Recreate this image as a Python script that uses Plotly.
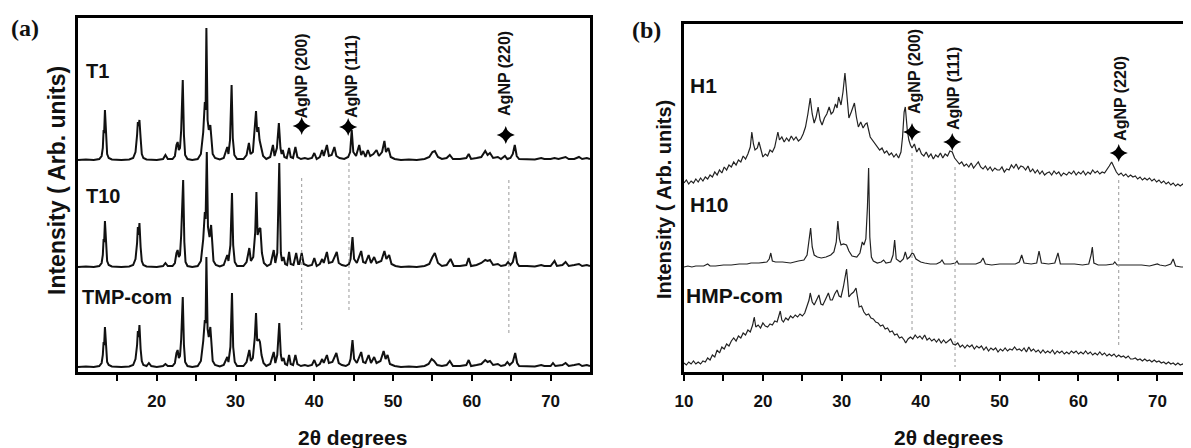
import plotly.graph_objects as go

# ---------------- DATA ----------------
# Panel (a): 2-theta (deg), intensity above each curve's own baseline
T1_PTS = [(10.0, 0), (11.0, 0.5), (12.0, 0), (12.7, 1), (13.0, 4), (13.15, 12), (13.25, 30), (13.32, 27), (13.42, 50), (13.55, 20), (13.7, 6), (13.9, 2), (14.3, 0.5), (15.5, 0), (16.5, 0.5), (17.0, 2), (17.3, 8), (17.5, 25), (17.6, 38), (17.7, 34), (17.8, 40), (17.95, 22), (18.1, 6), (18.3, 2), (18.7, 0.5), (20.0, 0), (20.8, 1), (21.1, 5), (21.4, 1), (22.0, 1), (22.3, 4), (22.5, 15), (22.65, 18), (22.8, 10), (22.95, 12), (23.1, 30), (23.3, 80), (23.45, 25), (23.6, 5), (23.9, 1), (24.5, 0), (25.2, 1), (25.6, 6), (25.9, 28), (26.1, 58), (26.2, 50), (26.3, 132), (26.45, 40), (26.6, 30), (26.8, 35), (26.95, 20), (27.1, 6), (27.4, 2), (28.0, 0.5), (28.5, 2), (28.8, 10), (28.95, 13), (29.1, 6), (29.3, 20), (29.5, 75), (29.65, 22), (29.85, 5), (30.2, 1), (31.0, 1), (31.4, 5), (31.7, 17), (31.9, 6), (32.2, 8), (32.45, 30), (32.6, 49), (32.75, 28), (32.9, 33), (33.05, 20), (33.25, 12), (33.5, 4), (33.9, 1), (34.4, 3), (34.75, 15), (34.95, 4), (35.25, 12), (35.5, 37), (35.7, 12), (35.85, 6), (36.0, 10), (36.2, 3), (36.5, 2), (36.8, 12), (37.0, 3), (37.3, 2), (37.6, 13), (37.85, 3), (38.3, 1), (38.8, 2), (39.2, 1), (39.7, 2), (40.0, 7), (40.3, 1), (40.7, 3), (41.0, 10), (41.2, 4), (41.6, 15), (41.85, 4), (42.2, 5), (42.55, 13), (42.8, 4), (43.2, 2), (43.8, 1), (44.3, 3), (44.55, 8), (44.75, 30), (44.95, 8), (45.3, 4), (45.7, 15), (45.95, 5), (46.2, 9), (46.5, 3), (46.8, 10), (47.1, 4), (47.5, 6), (47.9, 10), (48.2, 4), (48.6, 8), (48.9, 19), (49.1, 8), (49.4, 12), (49.7, 3), (50.2, 1), (51.0, 0), (52.0, 0.5), (53.0, 0), (54.0, 1), (54.6, 3), (55.0, 8), (55.3, 9), (55.7, 3), (56.2, 1), (56.8, 2), (57.2, 5), (57.6, 1), (58.5, 1), (59.3, 2), (59.6, 6), (59.9, 1), (60.6, 2), (61.2, 3), (61.7, 9), (62.0, 5), (62.3, 7), (62.7, 2), (63.3, 3), (63.7, 1), (64.2, 4), (64.5, 1), (64.9, 2), (65.2, 6), (65.45, 15), (65.7, 4), (66.0, 1), (67.0, 1), (68.0, 0.5), (68.8, 2), (69.2, 1), (70.0, 1), (70.5, 2), (71.0, 1), (71.9, 3), (72.3, 1), (73.0, 1), (73.6, 3), (74.0, 1), (74.6, 2), (75.0, 1)]

T10_PTS = [(10.0, 0), (11.0, 0.5), (12.0, 0), (12.7, 1), (13.0, 4), (13.15, 12), (13.25, 28), (13.32, 25), (13.42, 46), (13.55, 18), (13.7, 6), (13.9, 2), (14.3, 0.5), (15.5, 0), (16.5, 0.5), (17.0, 2), (17.3, 8), (17.5, 24), (17.6, 40), (17.7, 32), (17.8, 44), (17.95, 20), (18.1, 6), (18.3, 2), (18.7, 0.5), (20.0, 0), (20.8, 1), (21.1, 4), (21.4, 1), (22.0, 1), (22.3, 4), (22.5, 14), (22.65, 17), (22.8, 10), (22.95, 12), (23.1, 32), (23.35, 87), (23.5, 25), (23.65, 5), (23.9, 1), (24.5, 0), (25.2, 1), (25.6, 6), (25.9, 28), (26.1, 55), (26.2, 48), (26.35, 115), (26.5, 40), (26.7, 30), (26.9, 42), (27.05, 20), (27.2, 6), (27.5, 2), (28.0, 0.5), (28.5, 2), (28.8, 10), (28.95, 12), (29.1, 6), (29.35, 22), (29.55, 74), (29.7, 22), (29.9, 5), (30.2, 1), (31.0, 1), (31.4, 5), (31.75, 19), (31.95, 6), (32.25, 10), (32.5, 35), (32.65, 75), (32.8, 32), (33.0, 38), (33.15, 39), (33.35, 14), (33.6, 4), (34.0, 1), (34.45, 3), (34.85, 17), (35.05, 4), (35.3, 14), (35.55, 104), (35.75, 14), (35.9, 6), (36.1, 10), (36.3, 3), (36.55, 2), (36.8, 15), (37.0, 3), (37.35, 2), (37.7, 14), (37.95, 3), (38.1, 3), (38.4, 14), (38.65, 3), (39.2, 1), (39.7, 2), (40.0, 9), (40.3, 1), (40.7, 3), (41.0, 8), (41.2, 4), (41.6, 15), (41.85, 4), (42.3, 5), (42.85, 15), (43.1, 4), (43.5, 2), (44.0, 1), (44.4, 3), (44.6, 8), (44.85, 30), (45.05, 8), (45.4, 4), (45.95, 16), (46.2, 5), (46.5, 4), (46.9, 12), (47.2, 4), (47.6, 10), (47.9, 4), (48.5, 6), (48.9, 16), (49.15, 8), (49.5, 12), (49.8, 3), (50.3, 1), (51.0, 0), (52.0, 0.5), (53.0, 0), (54.0, 1), (54.6, 3), (55.0, 10), (55.3, 14), (55.7, 4), (56.2, 1), (56.8, 2), (57.3, 8), (57.7, 1), (58.5, 1), (59.3, 2), (59.6, 9), (59.9, 1), (60.6, 2), (61.2, 4), (61.7, 7), (62.0, 6), (62.3, 7), (62.7, 2), (63.3, 3), (63.7, 1), (64.3, 2), (64.6, 5), (64.9, 2), (65.2, 5), (65.5, 15), (65.75, 4), (66.0, 1), (67.0, 1), (68.0, 0.5), (68.8, 2), (69.2, 1), (70.0, 1), (70.5, 6), (70.8, 1), (71.5, 2), (71.9, 5), (72.3, 1), (73.0, 2), (73.6, 3), (74.0, 1), (74.6, 2), (75.0, 1)]

TMP_PTS = [(10.0, 0), (11.0, 0.5), (12.0, 0), (12.7, 1), (13.0, 4), (13.15, 12), (13.25, 25), (13.32, 22), (13.42, 40), (13.55, 16), (13.7, 5), (13.9, 2), (14.3, 0.5), (15.5, 0), (16.5, 0.5), (17.0, 2), (17.3, 8), (17.5, 22), (17.6, 36), (17.7, 30), (17.8, 42), (17.95, 18), (18.1, 6), (18.3, 2), (18.7, 1), (19.0, 4), (19.3, 1), (20.0, 0), (20.8, 1), (21.1, 3), (21.4, 1), (22.0, 1), (22.3, 4), (22.5, 14), (22.65, 17), (22.8, 9), (22.95, 11), (23.1, 28), (23.3, 70), (23.45, 22), (23.6, 5), (23.9, 1), (24.5, 0), (25.2, 1), (25.6, 6), (25.9, 26), (26.1, 47), (26.2, 44), (26.3, 110), (26.45, 38), (26.6, 30), (26.8, 40), (26.95, 18), (27.1, 6), (27.4, 2), (28.0, 0.5), (28.5, 2), (28.8, 8), (28.95, 10), (29.1, 5), (29.35, 20), (29.55, 74), (29.7, 20), (29.9, 5), (30.2, 1), (31.0, 1), (31.4, 5), (31.75, 17), (31.95, 6), (32.2, 9), (32.45, 30), (32.6, 54), (32.75, 26), (32.95, 28), (33.1, 25), (33.3, 12), (33.55, 4), (33.9, 1), (34.4, 3), (34.85, 15), (35.05, 4), (35.3, 12), (35.55, 44), (35.75, 12), (35.9, 6), (36.1, 9), (36.3, 3), (36.55, 2), (36.8, 12), (37.0, 3), (37.3, 2), (37.6, 12), (37.85, 3), (38.3, 1), (38.8, 2), (39.2, 1), (39.7, 2), (40.0, 7), (40.3, 1), (40.7, 3), (41.0, 8), (41.2, 4), (41.6, 12), (41.85, 4), (42.3, 5), (42.8, 14), (43.1, 4), (43.5, 2), (44.0, 1), (44.4, 3), (44.6, 8), (44.85, 27), (45.05, 8), (45.4, 4), (45.95, 15), (46.2, 5), (46.5, 4), (46.9, 12), (47.2, 4), (47.6, 10), (47.9, 4), (48.4, 6), (48.8, 16), (49.05, 8), (49.3, 12), (49.6, 3), (50.2, 1), (51.0, 0), (52.0, 0.5), (53.0, 0), (54.0, 1), (54.5, 3), (54.9, 8), (55.2, 6), (55.6, 2), (56.2, 1), (56.8, 2), (57.2, 6), (57.6, 1), (58.5, 1), (59.3, 2), (59.6, 7), (59.9, 1), (60.6, 2), (61.2, 3), (61.7, 7), (62.0, 5), (62.3, 6), (62.7, 2), (63.3, 3), (63.7, 1), (64.2, 2), (64.5, 5), (64.8, 2), (65.2, 5), (65.5, 14), (65.75, 4), (66.0, 1), (67.0, 1), (68.0, 0.5), (68.8, 2), (69.2, 1), (70.0, 1), (70.3, 4), (70.6, 1), (71.5, 2), (71.9, 4), (72.3, 1), (73.0, 2), (73.6, 3), (74.0, 1), (74.6, 2), (75.0, 1)]

# Panel (b)
H1_PTS = [(10.0, 9), (10.3, 12), (10.6, 8), (10.9, 11), (11.2, 9), (11.5, 13), (11.8, 10), (12.1, 14), (12.4, 11), (12.7, 15), (13.0, 13), (13.3, 17), (13.6, 15), (13.9, 20), (14.2, 17), (14.5, 22), (14.8, 19), (15.1, 25), (15.4, 22), (15.7, 27), (16.0, 25), (16.3, 30), (16.6, 27), (16.9, 32), (17.2, 30), (17.5, 36), (17.8, 33), (18.1, 38), (18.4, 45), (18.6, 60), (18.8, 48), (19.0, 42), (19.3, 44), (19.5, 50), (19.7, 44), (20.0, 35), (20.3, 38), (20.6, 36), (20.9, 42), (21.2, 40), (21.5, 45), (21.9, 60), (22.1, 52), (22.4, 55), (22.7, 50), (23.0, 54), (23.3, 51), (23.6, 56), (23.9, 52), (24.2, 55), (24.5, 51), (24.8, 53), (25.1, 58), (25.4, 65), (25.7, 78), (26.0, 94), (26.25, 78), (26.5, 69), (26.75, 75), (27.0, 85), (27.25, 72), (27.5, 67), (27.8, 74), (28.1, 78), (28.4, 85), (28.65, 78), (28.9, 80), (29.2, 88), (29.4, 84), (29.6, 95), (29.9, 87), (30.15, 100), (30.4, 119), (30.6, 100), (30.9, 74), (31.2, 80), (31.6, 89), (31.85, 75), (32.1, 65), (32.4, 70), (32.7, 64), (33.0, 68), (33.2, 69), (33.6, 55), (33.9, 52), (34.2, 48), (34.5, 45), (34.8, 42), (35.1, 44), (35.4, 39), (35.7, 41), (36.0, 37), (36.3, 39), (36.6, 35), (36.9, 38), (37.2, 34), (37.5, 40), (37.7, 55), (37.9, 80), (38.05, 85), (38.3, 62), (38.5, 52), (38.7, 47), (38.9, 44), (39.2, 48), (39.5, 40), (39.8, 44), (40.1, 38), (40.4, 36), (40.7, 40), (41.0, 35), (41.3, 38), (41.6, 33), (41.9, 37), (42.2, 35), (42.5, 39), (42.8, 34), (43.1, 38), (43.4, 36), (43.7, 41), (44.0, 40), (44.3, 34), (44.6, 31), (44.9, 28), (45.2, 30), (45.5, 26), (45.8, 28), (46.1, 25), (46.4, 29), (46.7, 24), (47.0, 27), (47.3, 30), (47.6, 25), (47.9, 23), (48.2, 26), (48.5, 22), (48.8, 25), (49.1, 21), (49.4, 24), (49.7, 22), (50.0, 22), (50.3, 25), (50.6, 20), (50.9, 23), (51.2, 22), (51.5, 27), (51.8, 24), (52.1, 28), (52.4, 23), (52.7, 26), (53.0, 25), (53.3, 22), (53.6, 26), (53.9, 20), (54.2, 23), (54.5, 19), (54.8, 22), (55.1, 18), (55.4, 21), (55.7, 17), (56.0, 19), (56.3, 20), (56.6, 17), (56.9, 21), (57.2, 18), (57.5, 20), (57.8, 16), (58.1, 19), (58.5, 17), (58.8, 20), (59.1, 18), (59.4, 21), (59.7, 17), (60.0, 20), (60.3, 18), (60.6, 21), (60.9, 17), (61.2, 20), (61.5, 18), (61.8, 22), (62.1, 19), (62.4, 21), (62.7, 18), (63.0, 20), (63.3, 19), (63.6, 22), (63.9, 26), (64.2, 30), (64.5, 24), (64.8, 20), (65.1, 17), (65.4, 19), (65.7, 16), (66.0, 18), (66.3, 15), (66.6, 17), (66.9, 15), (67.2, 16), (67.5, 13), (67.8, 15), (68.1, 12), (68.4, 14), (68.7, 12), (69.0, 14), (69.3, 11), (69.6, 13), (69.9, 10), (70.2, 12), (70.5, 9), (70.8, 11), (71.1, 8), (71.4, 10), (71.7, 7), (72.0, 9), (72.3, 6), (72.6, 8), (72.9, 6), (73.2, 8), (73.5, 5), (73.8, 7), (74.1, 5), (74.4, 6), (74.7, 4), (75.0, 5)]

H10_PTS = [(10.0, 0), (10.5, 1), (11.0, 0), (11.5, 1), (12.0, 1), (12.5, 1), (13.0, 3), (13.3, 1), (14.0, 1), (15.0, 2), (16.0, 2), (17.0, 3), (18.0, 3), (18.5, 4), (19.5, 4), (20.5, 5), (20.8, 8), (21.0, 14), (21.2, 6), (21.6, 5), (22.5, 5), (23.5, 4), (24.5, 6), (25.2, 7), (25.6, 12), (25.85, 25), (26.05, 39), (26.25, 20), (26.5, 12), (26.9, 10), (27.4, 9), (28.0, 10), (28.6, 12), (29.0, 15), (29.3, 25), (29.5, 46), (29.7, 28), (29.9, 22), (30.2, 23), (30.6, 22), (30.9, 16), (31.3, 11), (31.9, 10), (32.3, 14), (32.6, 25), (32.8, 22), (33.05, 28), (33.25, 60), (33.4, 99), (33.55, 30), (33.75, 10), (34.0, 6), (34.5, 4), (35.0, 5), (35.3, 7), (35.6, 4), (36.2, 5), (36.5, 12), (36.7, 27), (36.9, 8), (37.4, 5), (37.8, 8), (38.05, 15), (38.3, 8), (38.6, 10), (38.9, 14), (39.1, 13), (39.4, 8), (40.0, 5), (40.5, 4), (41.2, 3), (42.0, 3), (42.5, 5), (42.7, 7), (43.0, 3), (43.8, 3), (44.4, 4), (44.6, 6), (44.8, 3), (46.0, 3), (47.0, 3), (47.6, 5), (47.9, 9), (48.2, 3), (49.0, 2), (50.0, 3), (51.0, 3), (52.0, 3), (52.5, 5), (52.8, 12), (53.1, 4), (54.0, 3), (54.7, 4), (55.0, 16), (55.3, 4), (56.2, 3), (57.0, 4), (57.4, 14), (57.7, 3), (58.5, 3), (59.5, 3), (60.5, 2), (61.3, 3), (61.6, 12), (61.75, 20), (61.95, 4), (62.5, 2), (63.5, 2), (64.4, 3), (64.6, 5), (64.9, 2), (66.0, 2), (67.0, 2), (68.0, 2), (69.0, 1), (69.8, 2), (70.0, 3), (70.3, 2), (71.0, 1), (71.7, 3), (72.0, 8), (72.3, 1), (73.0, 0), (74.0, 0), (75.0, 0)]

HMP_PTS = [(10.0, 9), (10.3, 7), (10.6, 10), (10.9, 8), (11.2, 11), (11.5, 8), (11.8, 10), (12.1, 8), (12.4, 11), (12.7, 10), (13.0, 14), (13.3, 12), (13.6, 17), (13.9, 15), (14.2, 22), (14.5, 19), (14.8, 25), (15.1, 23), (15.4, 28), (15.7, 26), (16.0, 31), (16.3, 34), (16.6, 31), (16.9, 36), (17.2, 34), (17.5, 39), (17.8, 37), (18.1, 42), (18.4, 40), (18.7, 47), (18.9, 55), (19.1, 45), (19.4, 47), (19.7, 44), (20.0, 49), (20.3, 46), (20.6, 45), (20.9, 48), (21.2, 47), (21.5, 51), (21.8, 50), (22.0, 56), (22.2, 61), (22.4, 52), (22.6, 50), (22.9, 54), (23.2, 52), (23.5, 56), (23.8, 54), (24.1, 57), (24.4, 55), (24.7, 58), (25.0, 56), (25.3, 59), (25.6, 65), (25.85, 72), (26.0, 79), (26.25, 70), (26.5, 67), (26.8, 72), (27.1, 77), (27.35, 68), (27.6, 67), (27.9, 72), (28.1, 75), (28.3, 79), (28.55, 72), (28.8, 72), (29.1, 78), (29.4, 82), (29.65, 76), (29.9, 75), (30.2, 85), (30.45, 95), (30.6, 103), (30.75, 90), (30.9, 75), (31.2, 78), (31.5, 80), (31.8, 84), (32.0, 72), (32.2, 65), (32.5, 66), (32.8, 60), (33.1, 57), (33.4, 58), (33.7, 54), (34.0, 53), (34.3, 50), (34.6, 49), (34.9, 46), (35.2, 47), (35.5, 43), (35.8, 44), (36.1, 40), (36.4, 41), (36.7, 37), (37.0, 38), (37.3, 34), (37.6, 35), (37.9, 32), (38.1, 29), (38.4, 33), (38.7, 35), (39.0, 33), (39.3, 37), (39.6, 34), (39.9, 36), (40.2, 33), (40.5, 37), (40.8, 32), (41.1, 34), (41.4, 31), (41.7, 33), (42.0, 30), (42.3, 33), (42.6, 29), (42.9, 32), (43.2, 29), (43.5, 31), (43.8, 33), (44.1, 28), (44.4, 27), (44.7, 29), (45.0, 25), (45.3, 27), (45.6, 24), (45.9, 27), (46.2, 25), (46.5, 27), (46.8, 23), (47.1, 26), (47.4, 24), (47.7, 26), (48.0, 22), (48.3, 25), (48.6, 21), (48.9, 24), (49.2, 22), (49.5, 24), (49.8, 20), (50.1, 23), (50.4, 21), (50.7, 24), (51.0, 21), (51.3, 23), (51.6, 22), (51.9, 25), (52.2, 22), (52.5, 23), (52.8, 21), (53.1, 24), (53.4, 20), (53.7, 25), (54.0, 21), (54.3, 23), (54.6, 20), (54.9, 22), (55.2, 19), (55.5, 22), (55.8, 19), (56.1, 21), (56.4, 19), (56.7, 22), (57.0, 18), (57.3, 21), (57.6, 19), (57.9, 21), (58.2, 18), (58.5, 20), (58.8, 18), (59.1, 21), (59.4, 19), (59.7, 21), (60.0, 18), (60.3, 20), (60.6, 18), (60.9, 21), (61.2, 18), (61.5, 20), (61.8, 17), (62.1, 19), (62.4, 17), (62.7, 20), (63.0, 17), (63.3, 19), (63.6, 16), (63.9, 18), (64.2, 16), (64.5, 18), (64.8, 15), (65.1, 17), (65.4, 15), (65.7, 16), (66.0, 14), (66.3, 16), (66.6, 13), (66.9, 13), (67.2, 14), (67.5, 12), (67.8, 13), (68.1, 11), (68.4, 13), (68.7, 11), (69.0, 12), (69.3, 10), (69.6, 12), (69.9, 10), (70.2, 11), (70.5, 9), (70.8, 10), (71.1, 8), (71.4, 10), (71.7, 8), (72.0, 9), (72.3, 7), (72.6, 9), (72.9, 7), (73.2, 8), (73.5, 6), (73.8, 8), (74.1, 7), (74.4, 6), (74.7, 7), (75.0, 6)]

SERIES_A = ["T1", "T10", "TMP-com"]
SERIES_B = ["H1", "H10", "HMP-com"]
AGNP_LABELS = ["AgNP (200)", "AgNP (111)", "AgNP (220)"]
AGNP_POS_A = [38.4, 44.4, 64.7]     # 2-theta of the reference lines, panel (a)
AGNP_POS_B = [38.9, 44.35, 65.1]    # panel (b)
TICKS_A = [15, 20, 25, 30, 35, 40, 45, 50, 55, 60, 65, 70]
TICKS_B = [10, 15, 20, 25, 30, 35, 40, 45, 50, 55, 60, 65, 70]

# ---------------- STYLE / LAYOUT ----------------
OFF_A = {"T1": 212, "T10": 105, "TMP-com": 5}
OFF_B = {"H1": 180, "H10": 105, "HMP-com": 0}
# the page body keeps an 8px default margin, so the figure is drawn 8px smaller
# and all page-pixel positions below are shifted by that margin
BODY = 8
W, H = 1191 - BODY, 448 - BODY
SANS = "Liberation Sans, Arial, sans-serif"
SERIF = "Liberation Serif, Times New Roman, serif"


def px(x):
    return (x - BODY) / W


def py(y):
    return 1 - (y - BODY) / H


fig = go.Figure()

for name, pts in zip(SERIES_A, [T1_PTS, T10_PTS, TMP_PTS]):
    fig.add_trace(go.Scatter(x=[p[0] for p in pts], y=[p[1] + OFF_A[name] for p in pts],
                             mode="lines", line=dict(color="#111111", width=2),
                             xaxis="x", yaxis="y", showlegend=False, hoverinfo="skip"))

for name, pts in zip(SERIES_B, [H1_PTS, H10_PTS, HMP_PTS]):
    fig.add_trace(go.Scatter(x=[p[0] for p in pts], y=[p[1] + OFF_B[name] for p in pts],
                             mode="lines", line=dict(color="#222222", width=1.2),
                             xaxis="x2", yaxis="y2", showlegend=False, hoverinfo="skip"))

# dotted reference lines (start/end heights in panel units)
DOT_A = [(194, 42), (209, 62), (192, 39)]
DOT_B = [(219, 39), (205, 5), (192, 25)]
for xs, (y0, y1) in zip(AGNP_POS_A, DOT_A):
    fig.add_trace(go.Scatter(x=[xs, xs], y=[y0, y1], mode="lines",
                             line=dict(color="#999999", width=1, dash="dot"),
                             xaxis="x", yaxis="y", showlegend=False, hoverinfo="skip"))
for xs, (y0, y1) in zip(AGNP_POS_B, DOT_B):
    fig.add_trace(go.Scatter(x=[xs, xs], y=[y0, y1], mode="lines",
                             line=dict(color="#999999", width=1, dash="dot"),
                             xaxis="x2", yaxis="y2", showlegend=False, hoverinfo="skip"))

# star markers
STAR_A = [(38.4, 246), (44.3, 245), (64.3, 237)]
STAR_B = [(38.9, 240), (44.0, 230), (65.1, 219)]
fig.add_trace(go.Scatter(x=[s[0] for s in STAR_A], y=[s[1] for s in STAR_A], mode="markers",
                         marker=dict(symbol="star-diamond", size=13, color="black"),
                         xaxis="x", yaxis="y", showlegend=False, hoverinfo="skip"))
fig.add_trace(go.Scatter(x=[s[0] for s in STAR_B], y=[s[1] for s in STAR_B], mode="markers",
                         marker=dict(symbol="star-diamond", size=13, color="black"),
                         xaxis="x2", yaxis="y2", showlegend=False, hoverinfo="skip"))

annotations = []
TXT_A = [(38.5, 296), (44.8, 295), (64.2, 299)]
TXT_B = [(39.15, 301), (44.1, 283), (65.25, 274)]
for lab, (xx, yy) in zip(AGNP_LABELS, TXT_A):
    annotations.append(dict(x=xx, y=yy, xref="x", yref="y", text=lab, showarrow=False,
                            xanchor="center", yanchor="middle", textangle=-90,
                            font=dict(family=SANS, size=16, color="#111", weight="bold")))
for lab, (xx, yy) in zip(AGNP_LABELS, TXT_B):
    annotations.append(dict(x=xx, y=yy, xref="x2", yref="y2", text=lab, showarrow=False,
                            xanchor="center", yanchor="middle", textangle=-90,
                            font=dict(family=SANS, size=16, color="#111", weight="bold")))

# series labels (page-pixel positions of their left edge / centre)
LAB_POS_A = [(84, 71), (84, 196), (80, 297)]
LAB_POS_B = [(688, 86), (688, 204), (684, 295)]
for lab, (xx, yy) in zip(SERIES_A, LAB_POS_A):
    annotations.append(dict(x=px(xx), y=py(yy), xref="paper", yref="paper", text=lab,
                            showarrow=False, xanchor="left", yanchor="middle",
                            font=dict(family=SANS, size=20, color="#111", weight="bold")))
for lab, (xx, yy) in zip(SERIES_B, LAB_POS_B):
    annotations.append(dict(x=px(xx), y=py(yy), xref="paper", yref="paper", text=lab,
                            showarrow=False, xanchor="left", yanchor="middle",
                            font=dict(family=SANS, size=21, color="#111", weight="bold")))

# panel letters
annotations.append(dict(x=px(25), y=py(28), xref="paper", yref="paper", text="(a)", showarrow=False,
                        xanchor="center", yanchor="middle",
                        font=dict(family=SERIF, size=24, color="#111", weight="bold")))
annotations.append(dict(x=px(647), y=py(30), xref="paper", yref="paper", text="(b)", showarrow=False,
                        xanchor="center", yanchor="middle",
                        font=dict(family=SERIF, size=24, color="#111", weight="bold")))

# axis titles
annotations.append(dict(x=px(57), y=py(181), xref="paper", yref="paper", text="Intensity ( Arb. units)",
                        showarrow=False, textangle=-90, xanchor="center", yanchor="middle",
                        font=dict(family=SANS, size=23, color="#111", weight="bold")))
annotations.append(dict(x=px(664), y=py(200), xref="paper", yref="paper", text="Intensity ( Arb. units)",
                        showarrow=False, textangle=-90, xanchor="center", yanchor="middle",
                        font=dict(family=SANS, size=20, color="#111", weight="bold")))
annotations.append(dict(x=px(352), y=py(437), xref="paper", yref="paper", text="2θ degrees",
                        showarrow=False, xanchor="center", yanchor="middle",
                        font=dict(family=SANS, size=21, color="#111", weight="bold")))
annotations.append(dict(x=px(948), y=py(437), xref="paper", yref="paper", text="2θ degrees",
                        showarrow=False, xanchor="center", yanchor="middle",
                        font=dict(family=SANS, size=21, color="#111", weight="bold")))

tickfont = dict(family=SANS, size=17, color="#111", weight="bold")
common_x = dict(showline=True, linecolor="black", linewidth=3, ticks="outside", ticklen=6,
                tickwidth=2, tickcolor="black", showgrid=False, zeroline=False, tickfont=tickfont,
                ticklabelstandoff=6, automargin=False)
common_y = dict(showline=True, linecolor="black", linewidth=3, showticklabels=False, ticks="",
                showgrid=False, zeroline=False, automargin=False)

fig.update_layout(
    width=W, height=H, margin=dict(l=0, r=0, t=0, b=0, pad=0, autoexpand=False),
    paper_bgcolor="white", plot_bgcolor="white",
    xaxis=dict(domain=[px(78), px(590)], range=[10, 75], anchor="y", mirror=True,
               tickvals=TICKS_A, ticktext=[str(t) if t % 10 == 0 else "" for t in TICKS_A], **common_x),
    yaxis=dict(domain=[py(372), py(18)], range=[0, 354], anchor="x", mirror=True, **common_y),
    xaxis2=dict(domain=[px(684), 1.0], range=[10, 74.26], anchor="y2", mirror=True,
                tickvals=TICKS_B, ticktext=[str(t) if t % 10 == 0 else "" for t in TICKS_B], **common_x),
    yaxis2=dict(domain=[py(372), py(24)], range=[0, 348], anchor="x2", mirror=False, **common_y),
    annotations=annotations,
)

fig.write_html("out.html")
